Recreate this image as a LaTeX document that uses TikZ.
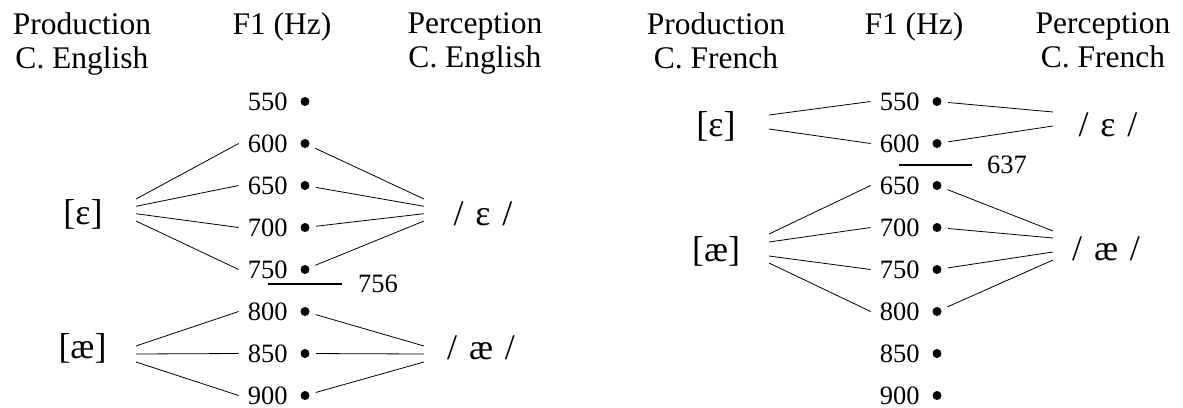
\documentclass[tikz,border=0pt]{standalone}
\usepackage{fontspec}
\setmainfont{Liberation Serif}
\usetikzlibrary{positioning}
\tikzset{
heading/.style={font=\fontsize{31.5}{34}\selectfont,align=center,inner sep=0pt,anchor=north},
phone/.style={font=\fontsize{36}{38}\selectfont,inner sep=0pt},
freq/.style={font=\fontsize{26.5}{28}\selectfont,inner xsep=9pt,inner ysep=0pt},
sample/.style={circle,fill,inner sep=0pt,minimum size=9pt},
link/.style={line width=.8pt},
pointlink/.style={link,shorten <=6.5pt},
boundary/.style={line width=2.6pt}
}
\newcommand{\slashed}[1]{/\hspace{.33em}#1\hspace{.33em}/}
\begin{document}
\begin{tikzpicture}[x=1pt,y=-1pt]
\useasboundingbox (0,0) rectangle (1183,407);
% Canadian English
\node[heading](prodEn) at (82,12){Production\\C. English};
\node[heading](hzEn) at (282,12){F1 (Hz)};
\node[heading](percEn) at (475,12){Perception\\C. English};
\node[sample](en550) at (305,101.5){};\node[freq,left=3.5pt of en550](nen550){550};
\node[sample](en600) at (305,143.5){};\node[freq,left=3.5pt of en600](nen600){600};
\node[sample](en650) at (305,185.5){};\node[freq,left=3.5pt of en650](nen650){650};
\node[sample](en700) at (305,227.5){};\node[freq,left=3.5pt of en700](nen700){700};
\node[sample](en750) at (305,269.5){};\node[freq,left=3.5pt of en750](nen750){750};
\node[sample](en800) at (305,311.5){};\node[freq,left=3.5pt of en800](nen800){800};
\node[sample](en850) at (305,353.5){};\node[freq,left=3.5pt of en850](nen850){850};
\node[sample](en900) at (305,395.5){};\node[freq,left=3.5pt of en900](nen900){900};
\node[phone](pEn) at (83,214){[ɛ]};\node[phone](pAn) at (82.5,348){[æ]};
\node[phone](qEn) at (483,214){\slashed{ɛ}};\node[phone](qAn) at (481,348){\slashed{æ}};
\coordinate(hpEn) at (136,210);\coordinate(hpAn) at (136,354);
\coordinate(hqEn) at (424,210);\coordinate(hqAn) at (424,354);
\coordinate(cutEn) at (305,284);
\draw[boundary]([xshift=-37pt]cutEn)coordinate(cutEnL)--([xshift=37pt]cutEn)coordinate(cutEnR);
\node[freq,right=7pt of cutEnR](bEn){756};
\draw[link]([yshift=11pt]hpEn)--(nen600.west);\draw[link]([yshift=3.7pt]hpEn)--(nen650.west);
\draw[link]([yshift=-3.7pt]hpEn)--(nen700.west);\draw[link]([yshift=-11pt]hpEn)--(nen750.west);
\draw[link]([yshift=8pt]hpAn)--(nen800.west);\draw[link](hpAn)--(nen850.west);\draw[link]([yshift=-8pt]hpAn)--(nen900.west);
\draw[pointlink](en600)--([yshift=11pt]hqEn);\draw[pointlink](en650)--([yshift=3.7pt]hqEn);
\draw[pointlink](en700)--([yshift=-3.7pt]hqEn);\draw[pointlink](en750)--([yshift=-11pt]hqEn);
\draw[pointlink](en800)--([yshift=8pt]hqAn);\draw[pointlink](en850)--(hqAn);\draw[pointlink](en900)--([yshift=-8pt]hqAn);
% Canadian French
\node[heading](prodFr) at (716,12){Production\\C. French};
\node[heading](hzFr) at (914,12){F1 (Hz)};
\node[heading](percFr) at (1103,12){Perception\\C. French};
\node[sample](fr550) at (937,101.5){};\node[freq,left=3.5pt of fr550](nfr550){550};
\node[sample](fr600) at (937,143.5){};\node[freq,left=3.5pt of fr600](nfr600){600};
\node[sample](fr650) at (937,185.5){};\node[freq,left=3.5pt of fr650](nfr650){650};
\node[sample](fr700) at (937,227.5){};\node[freq,left=3.5pt of fr700](nfr700){700};
\node[sample](fr750) at (937,269.5){};\node[freq,left=3.5pt of fr750](nfr750){750};
\node[sample](fr800) at (937,311.5){};\node[freq,left=3.5pt of fr800](nfr800){800};
\node[sample](fr850) at (937,353.5){};\node[freq,left=3.5pt of fr850](nfr850){850};
\node[sample](fr900) at (937,395.5){};\node[freq,left=3.5pt of fr900](nfr900){900};
\node[phone](pEf) at (716,126){[ɛ]};\node[phone](pAf) at (716,251){[æ]};
\node[phone](qEf) at (1108,125){\slashed{ɛ}};\node[phone](qAf) at (1106,249){\slashed{æ}};
\coordinate(hpEf) at (769,122);\coordinate(hpAf) at (769,248.5);
\coordinate(hqEf) at (1053,119);\coordinate(hqAf) at (1053,245.5);
\coordinate(cutFr) at (935.5,165);
\draw[boundary]([xshift=-36.5pt]cutFr)coordinate(cutFrL)--([xshift=36.5pt]cutFr)coordinate(cutFrR);
\node[freq,right=6pt of cutFrR](bFr){637};
\draw[link]([yshift=7pt]hpEf)--(nfr550.west);\draw[link]([yshift=-7pt]hpEf)--(nfr600.west);
\draw[link]([yshift=14.5pt]hpAf)--(nfr650.west);\draw[link]([yshift=6.5pt]hpAf)--(nfr700.west);
\draw[link]([yshift=-7.5pt]hpAf)--(nfr750.west);\draw[link]([yshift=-14.5pt]hpAf)--(nfr800.west);
\draw[pointlink](fr550)--([yshift=7pt]hqEf);\draw[pointlink](fr600)--([yshift=-7pt]hqEf);
\draw[pointlink](fr650)--([yshift=14.5pt]hqAf);\draw[pointlink](fr700)--([yshift=7.5pt]hqAf);
\draw[pointlink](fr750)--([yshift=-6.5pt]hqAf);\draw[pointlink](fr800)--([yshift=-14.5pt]hqAf);
\end{tikzpicture}
\end{document}
